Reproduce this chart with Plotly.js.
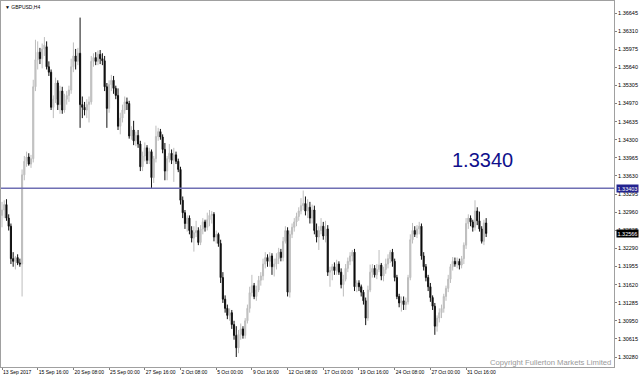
<!DOCTYPE html>
<html>
<head>
<meta charset="utf-8">
<script src="https://cdn.plot.ly/plotly-3.0.1.min.js"></script>
<style>
  html, body { margin: 0; padding: 0; background: #ffffff; }
  #chart { width: 640px; height: 377px; }
</style>
</head>
<body>
<div id="chart"></div>
<script>
// ---- Data (GBPUSD, H4) ----
const open = [
  1.3290,1.3300,1.3310,1.3285,1.3270,1.3210,1.3205,1.3212,1.3202,1.3200,
  1.3365,1.3390,1.3398,1.3385,1.3395,1.3528,1.3578,1.3592,1.3580,1.3598,
  1.3602,1.3565,1.3555,1.3490,1.3505,1.3535,1.3495,1.3520,1.3485,1.3505,
  1.3512,1.3522,1.3565,1.3585,1.3575,1.3590,1.3495,1.3490,1.3485,1.3495,
  1.3500,1.3575,1.3582,1.3575,1.3588,1.3580,1.3576,1.3528,1.3488,1.3532,
  1.3540,1.3525,1.3512,1.3455,1.3470,1.3485,1.3500,1.3497,1.3437,1.3448,
  1.3428,1.3438,1.3422,1.3380,1.3400,1.3415,1.3392,1.3408,1.3360,1.3395,
  1.3436,1.3445,1.3435,1.3412,1.3372,1.3395,1.3405,1.3392,1.3402,1.3390,
  1.3375,1.3318,1.3295,1.3275,1.3285,1.3262,1.3248,1.3258,1.3262,1.3240,
  1.3265,1.3278,1.3268,1.3282,1.3290,1.3292,1.3250,1.3255,1.3238,1.3175,
  1.3135,1.3118,1.3105,1.3110,1.3088,1.3068,1.3045,1.3070,1.3080,1.3068,
  1.3095,1.3118,1.3147,1.3160,1.3140,1.3152,1.3170,1.3178,1.3200,1.3212,
  1.3205,1.3215,1.3195,1.3200,1.3210,1.3222,1.3212,1.3242,1.3262,1.3148,
  1.3255,1.3268,1.3278,1.3288,1.3298,1.3308,1.3312,1.3298,1.3305,1.3285,
  1.3300,1.3262,1.3250,1.3262,1.3270,1.3252,1.3265,1.3185,1.3188,1.3195,
  1.3188,1.3200,1.3185,1.3162,1.3172,1.3192,1.3205,1.3215,1.3222,1.3158,
  1.3165,1.3158,1.3148,1.3132,1.3100,1.3152,1.3185,1.3192,1.3180,1.3190,
  1.3198,1.3178,1.3190,1.3200,1.3210,1.3222,1.3205,1.3175,1.3140,1.3128,
  1.3132,1.3125,1.3130,1.3175,1.3245,1.3262,1.3255,1.3265,1.3270,1.3215,
  1.3195,1.3175,1.3158,1.3138,1.3122,1.3085,1.3100,1.3110,1.3118,1.3140,
  1.3155,1.3172,1.3195,1.3205,1.3200,1.3205,1.3198,1.3210,1.3235,1.3275,
  1.3285,1.3278,1.3268,1.3298,1.3280,1.3265,1.3242,1.3276
];
const high = [
  1.3315,1.3318,1.3320,1.3292,1.3275,1.3222,1.3215,1.3218,1.3210,1.3375,
  1.3400,1.3408,1.3405,1.3402,1.3541,1.3615,1.3612,1.3600,1.3608,1.3620,
  1.3612,1.3575,1.3560,1.3512,1.3545,1.3540,1.3530,1.3528,1.3515,1.3520,
  1.3530,1.3580,1.3610,1.3598,1.3600,1.3656,1.3510,1.3500,1.3505,1.3510,
  1.3585,1.3590,1.3592,1.3595,1.3596,1.3590,1.3585,1.3535,1.3540,1.3550,
  1.3548,1.3530,1.3525,1.3480,1.3495,1.3510,1.3508,1.3502,1.3455,1.3465,
  1.3445,1.3448,1.3428,1.3408,1.3425,1.3420,1.3415,1.3412,1.3400,1.3456,
  1.3452,1.3450,1.3440,1.3424,1.3400,1.3422,1.3412,1.3415,1.3408,1.3395,
  1.3380,1.3325,1.3300,1.3290,1.3290,1.3270,1.3270,1.3280,1.3268,1.3272,
  1.3285,1.3282,1.3295,1.3300,1.3298,1.3296,1.3262,1.3258,1.3245,1.3185,
  1.3142,1.3125,1.3118,1.3115,1.3095,1.3085,1.3078,1.3090,1.3085,1.3100,
  1.3125,1.3158,1.3180,1.3165,1.3160,1.3178,1.3185,1.3210,1.3222,1.3218,
  1.3222,1.3220,1.3210,1.3220,1.3230,1.3228,1.3250,1.3270,1.3268,1.3262,
  1.3275,1.3285,1.3295,1.3305,1.3322,1.3336,1.3325,1.3320,1.3315,1.3310,
  1.3308,1.3275,1.3270,1.3285,1.3278,1.3280,1.3272,1.3195,1.3200,1.3203,
  1.3208,1.3205,1.3192,1.3180,1.3200,1.3212,1.3222,1.3226,1.3228,1.3170,
  1.3170,1.3162,1.3152,1.3138,1.3160,1.3199,1.3200,1.3198,1.3200,1.3226,
  1.3202,1.3195,1.3210,1.3218,1.3226,1.3228,1.3210,1.3180,1.3145,1.3140,
  1.3140,1.3138,1.3180,1.3255,1.3276,1.3270,1.3272,1.3278,1.3275,1.3222,
  1.3200,1.3180,1.3165,1.3142,1.3128,1.3105,1.3118,1.3125,1.3145,1.3160,
  1.3180,1.3200,1.3213,1.3212,1.3212,1.3210,1.3215,1.3240,1.3285,1.3292,
  1.3290,1.3282,1.3318,1.3305,1.3297,1.3270,1.3282,1.3285
];
const low = [
  1.3268,1.3285,1.3280,1.3262,1.3200,1.3195,1.3190,1.3198,1.3195,1.3140,
  1.3355,1.3380,1.3382,1.3378,1.3388,1.3520,1.3560,1.3570,1.3562,1.3585,
  1.3560,1.3548,1.3485,1.3470,1.3498,1.3485,1.3478,1.3478,1.3480,1.3495,
  1.3500,1.3515,1.3555,1.3560,1.3568,1.3452,1.3470,1.3475,1.3470,1.3462,
  1.3495,1.3565,1.3568,1.3568,1.3570,1.3568,1.3520,1.3452,1.3480,1.3520,
  1.3515,1.3505,1.3448,1.3440,1.3462,1.3478,1.3485,1.3432,1.3430,1.3420,
  1.3418,1.3415,1.3372,1.3372,1.3390,1.3385,1.3385,1.3340,1.3350,1.3388,
  1.3428,1.3430,1.3405,1.3355,1.3355,1.3388,1.3385,1.3352,1.3385,1.3370,
  1.3310,1.3285,1.3265,1.3260,1.3255,1.3240,1.3223,1.3250,1.3235,1.3235,
  1.3255,1.3260,1.3262,1.3270,1.3275,1.3242,1.3238,1.3232,1.3165,1.3128,
  1.3110,1.3098,1.3095,1.3080,1.3060,1.3028,1.3035,1.3060,1.3062,1.3062,
  1.3090,1.3110,1.3140,1.3135,1.3132,1.3148,1.3160,1.3170,1.3192,1.3195,
  1.3195,1.3180,1.3177,1.3190,1.3200,1.3205,1.3205,1.3238,1.3140,1.3138,
  1.3248,1.3260,1.3270,1.3280,1.3292,1.3300,1.3290,1.3285,1.3275,1.3275,
  1.3255,1.3240,1.3226,1.3255,1.3245,1.3240,1.3178,1.3158,1.3170,1.3180,
  1.3180,1.3180,1.3155,1.3140,1.3168,1.3185,1.3198,1.3205,1.3150,1.3148,
  1.3150,1.3140,1.3125,1.3087,1.3095,1.3148,1.3175,1.3175,1.3172,1.3185,
  1.3170,1.3168,1.3182,1.3192,1.3202,1.3195,1.3168,1.3135,1.3120,1.3112,
  1.3115,1.3115,1.3125,1.3170,1.3238,1.3250,1.3248,1.3255,1.3208,1.3188,
  1.3168,1.3150,1.3130,1.3115,1.3069,1.3075,1.3092,1.3100,1.3110,1.3132,
  1.3148,1.3165,1.3188,1.3195,1.3192,1.3190,1.3192,1.3200,1.3228,1.3265,
  1.3270,1.3260,1.3262,1.3272,1.3260,1.3238,1.3235,1.3250
];
const close = [
  1.3300,1.3310,1.3285,1.3270,1.3210,1.3205,1.3212,1.3202,1.3200,1.3365,
  1.3390,1.3398,1.3385,1.3395,1.3528,1.3578,1.3592,1.3580,1.3598,1.3605,
  1.3565,1.3555,1.3490,1.3505,1.3535,1.3495,1.3520,1.3485,1.3505,1.3512,
  1.3522,1.3565,1.3585,1.3575,1.3590,1.3495,1.3490,1.3485,1.3495,1.3500,
  1.3575,1.3582,1.3575,1.3588,1.3580,1.3576,1.3528,1.3488,1.3532,1.3540,
  1.3525,1.3512,1.3455,1.3470,1.3485,1.3500,1.3497,1.3437,1.3448,1.3428,
  1.3438,1.3422,1.3380,1.3400,1.3415,1.3392,1.3408,1.3360,1.3395,1.3436,
  1.3445,1.3435,1.3412,1.3372,1.3395,1.3405,1.3392,1.3402,1.3390,1.3375,
  1.3318,1.3295,1.3275,1.3285,1.3262,1.3248,1.3258,1.3262,1.3240,1.3265,
  1.3278,1.3268,1.3282,1.3290,1.3292,1.3250,1.3255,1.3238,1.3175,1.3135,
  1.3118,1.3105,1.3110,1.3088,1.3068,1.3045,1.3070,1.3080,1.3068,1.3095,
  1.3118,1.3147,1.3160,1.3140,1.3152,1.3170,1.3178,1.3200,1.3212,1.3205,
  1.3215,1.3195,1.3200,1.3210,1.3222,1.3212,1.3242,1.3262,1.3148,1.3255,
  1.3268,1.3278,1.3288,1.3298,1.3308,1.3312,1.3298,1.3305,1.3285,1.3300,
  1.3262,1.3250,1.3262,1.3270,1.3252,1.3265,1.3185,1.3188,1.3195,1.3188,
  1.3200,1.3185,1.3162,1.3172,1.3192,1.3205,1.3215,1.3222,1.3158,1.3165,
  1.3158,1.3148,1.3132,1.3100,1.3152,1.3185,1.3192,1.3180,1.3190,1.3198,
  1.3178,1.3190,1.3200,1.3210,1.3222,1.3205,1.3175,1.3140,1.3128,1.3132,
  1.3125,1.3130,1.3175,1.3245,1.3262,1.3255,1.3265,1.3270,1.3215,1.3195,
  1.3175,1.3158,1.3138,1.3122,1.3085,1.3100,1.3110,1.3118,1.3140,1.3155,
  1.3172,1.3195,1.3205,1.3200,1.3205,1.3198,1.3210,1.3235,1.3275,1.3285,
  1.3278,1.3268,1.3298,1.3280,1.3265,1.3242,1.3276,1.32566
];

const timeTickBars = [0,16,32,48,64,80,96,112,128,144,160,176,192,208];
const timeTickLabels = ["13 Sep 2017","15 Sep 16:00","20 Sep 08:00","25 Sep 00:00","27 Sep 16:00",
  "2 Oct 08:00","5 Oct 00:00","9 Oct 16:00","12 Oct 08:00","17 Oct 00:00","19 Oct 16:00",
  "24 Oct 08:00","27 Oct 00:00","31 Oct 16:00"];
const priceTicks = [1.36645,1.36310,1.35975,1.35640,1.35305,1.34970,1.34635,1.34300,1.33965,1.33630,
  1.33295,1.32960,1.32625,1.32290,1.31955,1.31620,1.31285,1.30950,1.30615,1.30280];
const priceTickLabels = ["1.36645","1.36310","1.35975","1.35640","1.35305","1.34970","1.34635","1.34300","1.33965","1.33630",
  "1.33295","1.32960","1.32625","1.32290","1.31955","1.31620","1.31285","1.30950","1.30615","1.30280"];
const levelPrice = 1.33403;
const levelLabel = "1.33403";
const bigLabel = "1.3340";
const lastLabel = "1.32566";
const symbolTitle = "\u25BC GBPUSD,H4";
const copyrightText = "Copyright Fullerton Markets Limited";

// ---- Chart ----
const barIndex = close.map((_, i) => i);
const lastPrice = close[close.length - 1];

const trace = {
  type: 'candlestick',
  x: barIndex, open: open, high: high, low: low, close: close,
  increasing: { line: { color: '#bdbdbd', width: 1 }, fillcolor: '#c8c8c8' },
  decreasing: { line: { color: '#111111', width: 1 }, fillcolor: '#000000' },
  whiskerwidth: 0,
  hoverinfo: 'skip',
  showlegend: false
};

const FONT = 'Liberation Sans, Arial, sans-serif';

const layout = {
  width: 640, height: 377,
  margin: { l: 1, r: 26, t: 1, b: 10, pad: 0 },
  paper_bgcolor: '#ffffff', plot_bgcolor: '#ffffff',
  showlegend: false,
  xaxis: {
    type: 'linear',
    range: [-0.45, 274.3],
    rangeslider: { visible: false },
    showgrid: false, zeroline: false,
    showline: true, mirror: true, linecolor: '#a0a0a0', linewidth: 1,
    tickmode: 'array', tickvals: timeTickBars, ticktext: timeTickLabels,
    tickangle: 0,
    ticks: 'outside', ticklen: 2, tickcolor: '#808080',
    ticklabelposition: 'outside right',
    ticklabelstandoff: 0,
    automargin: false,
    tickfont: { family: FONT, size: 5, color: '#000000' },
    fixedrange: true
  },
  yaxis: {
    side: 'right',
    range: [1.30095, 1.36867],
    showgrid: false, zeroline: false,
    showline: true, mirror: true, linecolor: '#a0a0a0', linewidth: 1,
    tickmode: 'array', tickvals: priceTicks, ticktext: priceTickLabels,
    ticks: 'outside', ticklen: 2, tickcolor: '#808080',
    automargin: false,
    tickfont: { family: FONT, size: 5.5, color: '#000000' },
    fixedrange: true
  },
  shapes: [
    { type: 'line', xref: 'paper', x0: 0, x1: 1, yref: 'y', y0: levelPrice, y1: levelPrice,
      line: { color: '#6f6fb3', width: 1.5 } }
  ],
  annotations: [
    { text: symbolTitle, xref: 'paper', yref: 'paper', x: 0.003, y: 0.997,
      xanchor: 'left', yanchor: 'top', showarrow: false,
      font: { family: FONT, size: 5, color: '#000000' } },
    { text: bigLabel, xref: 'paper', yref: 'paper', x: 0.785, y: 0.566,
      xanchor: 'center', yanchor: 'middle', showarrow: false,
      font: { family: FONT, size: 20, color: '#10108c' } },
    { text: copyrightText, xref: 'paper', yref: 'paper', x: 0.999, y: -0.006,
      xanchor: 'right', yanchor: 'bottom', showarrow: false,
      font: { family: FONT, size: 7.7, color: '#9a9a9a' } },
    { text: levelLabel, xref: 'paper', yref: 'y', x: 1, y: levelPrice,
      xanchor: 'left', yanchor: 'middle', xshift: 2, showarrow: false,
      bgcolor: '#23238f', borderpad: 0.5,
      font: { family: FONT, size: 5.5, color: '#ffffff' } },
    { text: lastLabel, xref: 'paper', yref: 'y', x: 1, y: lastPrice,
      xanchor: 'left', yanchor: 'middle', xshift: 2, showarrow: false,
      bgcolor: '#000000', borderpad: 0.5,
      font: { family: FONT, size: 5.5, color: '#ffffff' } }
  ]
};

Plotly.newPlot('chart', [trace], layout, { displayModeBar: false, staticPlot: true });
</script>
</body>
</html>
